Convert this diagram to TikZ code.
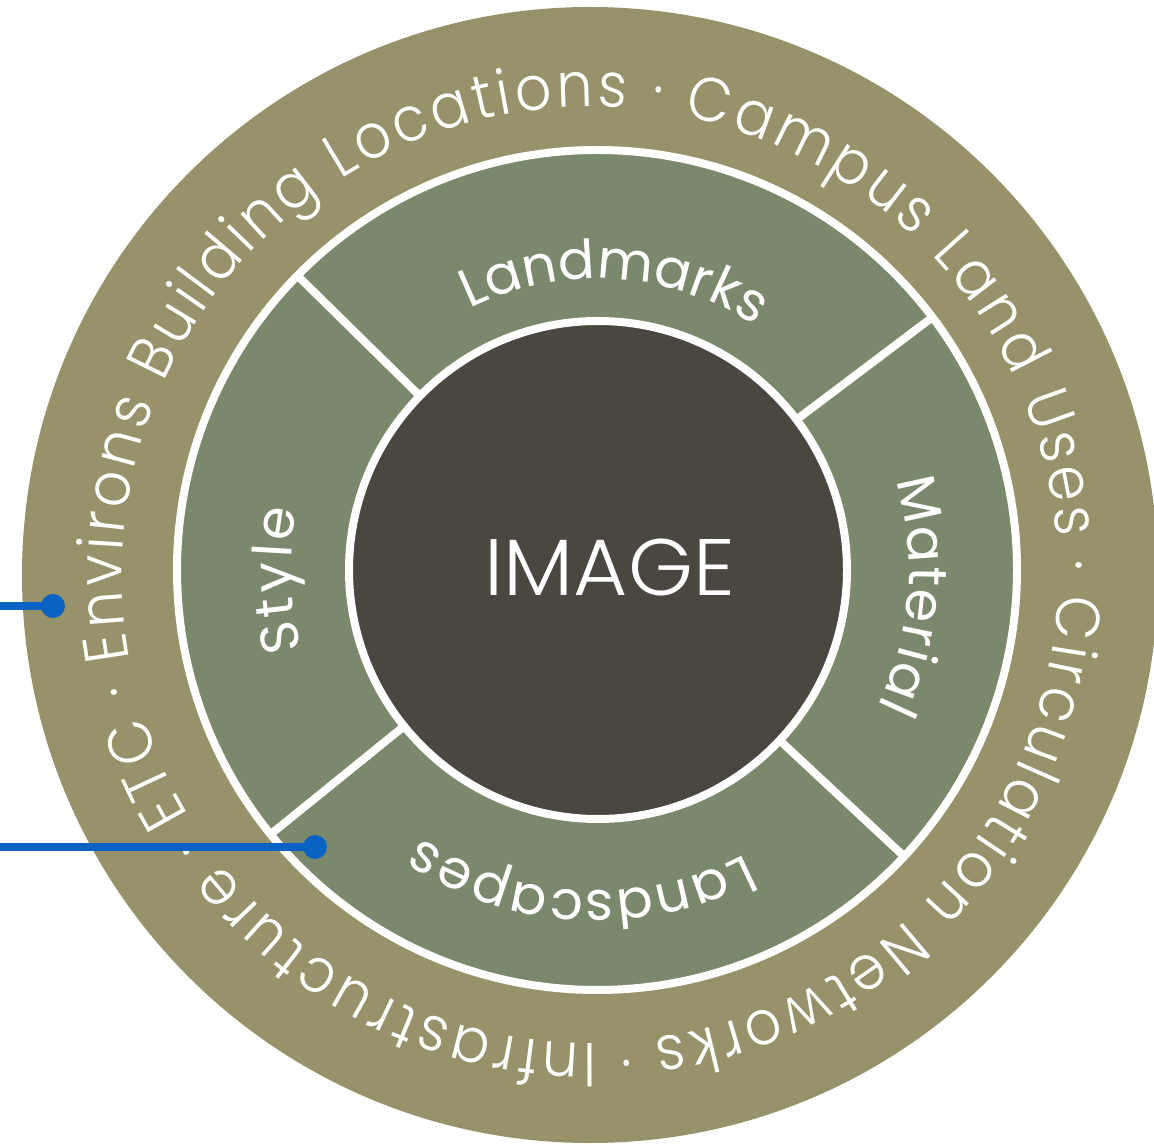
\documentclass[tikz,border=0pt]{standalone}
\usepackage{fontspec}
\IfFontExistsTF{Poppins Light}
  {\newfontfamily\thinfont{Poppins Light}[FakeStretch=0.92]
   \newfontfamily\imgfont{Poppins Light}[FakeStretch=1.04]}
  {\newfontfamily\thinfont{Poppins}[FakeStretch=0.92]
   \newfontfamily\imgfont{Poppins}[FakeStretch=1.04]}
\newfontfamily\lblfont{Poppins}
\usetikzlibrary{decorations.text}
\definecolor{ringolive}{HTML}{97926A}
\definecolor{ringgreen}{HTML}{7A886B}
\definecolor{coredark}{HTML}{4A4640}
\definecolor{linkblue}{HTML}{0A63C3}
\begin{document}
\begin{tikzpicture}[x=1pt,y=1pt,
  curvedtext/.style={decorate, decoration={text along path, text align={fit to path}, text={#1}}},
  divider/.style={draw=white, line width=8pt},
  dot/.style={circle, fill=linkblue, minimum size=24pt, inner sep=0pt},
  link/.style={draw=linkblue, line width=7.5pt}]
\useasboundingbox (0,0) rectangle (1154,1144);
% outer band
\fill[ringolive] (590,569) circle[radius=568];
% green ring
\filldraw[fill=ringgreen, draw=white, line width=8pt] (597,574) circle[radius=420];
% dividers
\foreach \a in {37,135.5,219,317}
  \draw[divider] ([shift={(597,574)}]\a:249) -- ([shift={(597,574)}]\a:421);
% dark core
\filldraw[fill=coredark, draw=white, line width=8pt] (598,574) circle[radius=249];
\node[font=\imgfont\fontsize{80}{80}\selectfont, text=white, inner sep=0pt] (core) at (610,576) {IMAGE};
% outer ring text
\path[curvedtext={|\thinfont\fontsize{62}{62}\selectfont\color{white}|· Environs Building Locations · Campus Land Uses · Circulation Networks · Infrastructure · ETC}]
  ([shift={(590,569)}]194.5:468) arc[start angle=194.5, end angle=-162.5, radius=468];
% segment labels
\path[curvedtext={|\lblfont\fontsize{54}{54}\selectfont\color{white}|Landmarks}]
  ([shift={(597,574)}]116:291) arc[start angle=116, end angle=57, radius=291];
\path[curvedtext={|\lblfont\fontsize{54}{54}\selectfont\color{white}|Material}]
  ([shift={(597,574)}]16.6:312) arc[start angle=16.6, end angle=-26, radius=312];
\path[curvedtext={|\lblfont\fontsize{54}{54}\selectfont\color{white}|Landscapes}]
  ([shift={(597,574)}]297.5:321) arc[start angle=297.5, end angle=236.7, radius=321];
\path[curvedtext={|\lblfont\fontsize{54}{54}\selectfont\color{white}|Style}]
  ([shift={(597,574)}]195:306) arc[start angle=195, end angle=168.5, radius=306];
% connectors
\coordinate (e1) at (0,538);
\coordinate (e2) at (0,297);
\node[dot] (d1) at (53,538) {};
\node[dot] (d2) at (315,297) {};
\draw[link] (e1) -- (d1.center);
\draw[link] (e2) -- (d2.center);
\end{tikzpicture}
\end{document}
